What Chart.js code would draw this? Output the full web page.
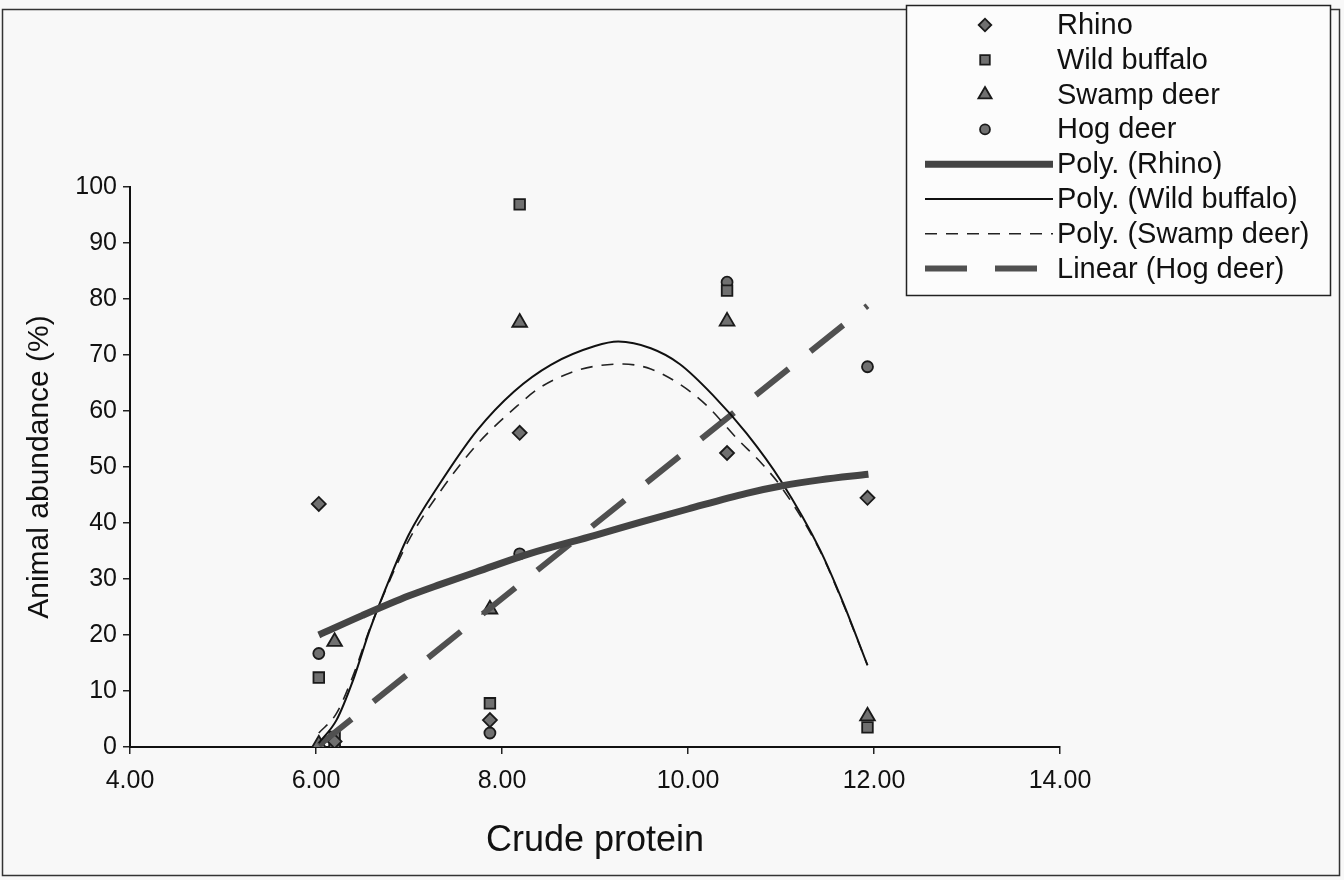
<!DOCTYPE html>
<html>
<head>
<meta charset="utf-8">
<script src="https://cdn.jsdelivr.net/npm/chart.js@4.4.1/dist/chart.umd.min.js"></script>
<style>
  html, body { margin: 0; padding: 0; background: #f8f8f8; }
  #wrap { width: 1344px; height: 880px; position: relative; }
</style>
</head>
<body>
<div id="wrap"><canvas id="chart" width="1344" height="880"></canvas></div>
<script>
// Crude protein of each sampling site (x)
const siteCP = [6.03, 6.20, 7.87, 8.19, 10.42, 11.93];

// Animal abundance (%) per site
const rhino       = [43.4, 1.0, 4.8, 56.1, 52.5, 44.5];
const wildBuffalo = [12.4, 1.8, 7.8, 96.9, 81.5, 3.5];
const swampDeer   = [0.5, 18.8, 24.6, 75.8, 76.0, 5.5];
const hogDeer     = [16.7, 0.3, 2.5, 34.5, 83.0, 67.9];

// Trend lines
const rhinoTrendX = [6.03, 6.5, 7.0, 7.33, 7.73, 8.29, 9.0, 9.5, 10.0, 10.63, 11.0, 11.42, 11.94];
const rhinoTrendY = [20.0, 23.5, 27.0, 29.0, 31.3, 34.5, 37.8, 40.2, 42.5, 45.3, 46.6, 47.7, 48.7];

const buffaloTrendX = [6.03, 6.22, 6.4, 6.58, 6.8, 7.0, 7.33, 7.73, 8.13, 8.53, 9.0, 9.25, 9.6, 9.91, 10.27, 10.63, 11.0, 11.42, 11.67, 11.93];
const buffaloTrendY = [0.7, 4.8, 12.0, 21.0, 30.4, 38.0, 47.0, 56.5, 63.5, 68.3, 71.6, 72.4, 71.2, 68.4, 62.8, 56.0, 47.5, 35.2, 25.7, 14.6];

const swampTrendX = [6.03, 6.22, 6.4, 6.58, 6.8, 7.0, 7.33, 7.73, 8.17, 8.41, 8.73, 9.0, 9.3, 9.6, 9.91, 10.2, 10.52, 10.8, 11.0, 11.42, 11.67, 11.93];
const swampTrendY = [2.5, 6.0, 12.8, 21.2, 30.0, 37.0, 45.5, 54.0, 61.0, 64.2, 66.8, 68.0, 68.4, 67.5, 64.8, 61.0, 55.2, 50.5, 46.5, 35.0, 25.5, 14.6];

const hogTrendX = [6.03, 11.93];
const hogTrendY = [0.3, 78.8];

// Axis ticks
const xTicks = [4, 6, 8, 10, 12, 14];
const yTicks = [0, 10, 20, 30, 40, 50, 60, 70, 80, 90, 100];

const FONT = "'Liberation Sans', Arial, sans-serif";
Chart.defaults.font.family = FONT;
Chart.defaults.color = '#111';

const pts = (xs, ys) => xs.map((x, i) => ({ x: x, y: ys[i] }));

function markerSet(label, ys, style, radius) {
    return {
        label: label,
        data: pts(siteCP, ys),
        showLine: false,
        pointStyle: style,
        pointRadius: radius,
        pointHoverRadius: radius,
        pointBackgroundColor: '#707070',
        pointBorderColor: '#1a1a1a',
        pointBorderWidth: 1.8,
        order: 2
    };
}

function trendSet(label, xs, ys, color, width, dash, tension) {
    return {
        label: label,
        data: pts(xs, ys),
        showLine: true,
        borderColor: color,
        borderWidth: width,
        borderDash: dash,
        pointRadius: 0,
        pointHoverRadius: 0,
        tension: tension,
        cubicInterpolationMode: tension ? 'monotone' : 'default',
        order: 1
    };
}

const datasets = [
    markerSet('Rhino', rhino, 'rectRot', 7),
    markerSet('Wild buffalo', wildBuffalo, 'rect', 7.5),
    markerSet('Swamp deer', swampDeer, 'triangle', 8.5),
    markerSet('Hog deer', hogDeer, 'circle', 5.5),
    trendSet('Poly. (Rhino)', rhinoTrendX, rhinoTrendY, '#444', 7, [], 0.4),
    trendSet('Poly. (Wild buffalo)', buffaloTrendX, buffaloTrendY, '#111', 2, [], 0.4),
    trendSet('Poly. (Swamp deer)', swampTrendX, swampTrendY, '#222', 1.6, [12, 9], 0.4),
    trendSet('Linear (Hog deer)', hogTrendX, hogTrendY, '#505050', 6, [42, 28], 0)
];

// Boxed legend at the top right, symbols left of the names
const boxLegend = {
    id: 'boxLegend',
    afterDraw(chart) {
        const ctx = chart.ctx;
        ctx.save();
        // outer frame of the figure
        ctx.strokeStyle = '#333';
        ctx.lineWidth = 1.5;
        ctx.strokeRect(2.5, 9.5, 1337, 866);

        ctx.fillStyle = '#fcfcfc';
        ctx.fillRect(906, 5, 424, 290);
        ctx.strokeStyle = '#222';
        ctx.lineWidth = 1.5;
        ctx.strokeRect(906.5, 5.5, 424, 290);

        ctx.font = '29px ' + FONT;
        ctx.textBaseline = 'middle';
        chart.data.datasets.forEach((ds, i) => {
            const y = 25 + i * 34.8;
            if (ds.showLine) {
                ctx.beginPath();
                ctx.setLineDash(ds.borderDash || []);
                ctx.lineWidth = ds.borderWidth;
                ctx.strokeStyle = ds.borderColor;
                ctx.moveTo(925, y);
                ctx.lineTo(1053, y);
                ctx.stroke();
                ctx.setLineDash([]);
            } else {
                ctx.fillStyle = ds.pointBackgroundColor;
                ctx.strokeStyle = ds.pointBorderColor;
                ctx.lineWidth = ds.pointBorderWidth;
                Chart.helpers.drawPoint(ctx, {
                    pointStyle: ds.pointStyle,
                    radius: ds.pointRadius * 0.9,
                    borderWidth: ds.pointBorderWidth,
                    rotation: 0
                }, 985, y);
            }
            ctx.fillStyle = '#111';
            ctx.fillText(ds.label, 1057, y + 1);
        });
        ctx.restore();
    }
};

new Chart(document.getElementById('chart'), {
    type: 'scatter',
    data: { datasets },
    plugins: [boxLegend],
    options: {
        responsive: false,
        animation: false,
        layout: { padding: { left: 0, right: 284, top: 187, bottom: 0 } },
        plugins: {
            legend: { display: false },
            tooltip: { enabled: false }
        },
        scales: {
            x: {
                type: 'linear',
                min: xTicks[0],
                max: xTicks[xTicks.length - 1],
                afterBuildTicks: s => { s.ticks = xTicks.map(v => ({ value: v })); },
                afterFit: s => { s.height = 133; },
                ticks: {
                    callback: v => Number(v).toFixed(2),
                    font: { size: 25 },
                    color: '#111',
                    padding: 12,
                    maxRotation: 0
                },
                grid: { drawOnChartArea: false, drawTicks: true, tickLength: 7, color: '#222', lineWidth: 1.5 },
                border: { display: true, color: '#111', width: 2 },
                title: {
                    display: true,
                    text: 'Crude protein',
                    font: { size: 36 },
                    color: '#111',
                    padding: { top: 0, bottom: 17 }
                }
            },
            y: {
                type: 'linear',
                min: yTicks[0],
                max: yTicks[yTicks.length - 1],
                afterBuildTicks: s => { s.ticks = yTicks.map(v => ({ value: v })); },
                afterFit: s => { s.width = 130; },
                ticks: {
                    font: { size: 25 },
                    color: '#111',
                    padding: 6
                },
                grid: { drawOnChartArea: false, drawTicks: true, tickLength: 7, color: '#222', lineWidth: 1.5 },
                border: { display: true, color: '#111', width: 2 },
                title: {
                    display: true,
                    text: 'Animal abundance (%)',
                    font: { size: 30 },
                    color: '#111',
                    padding: { top: 22, bottom: 0 }
                }
            }
        }
    }
});
</script>
</body>
</html>
